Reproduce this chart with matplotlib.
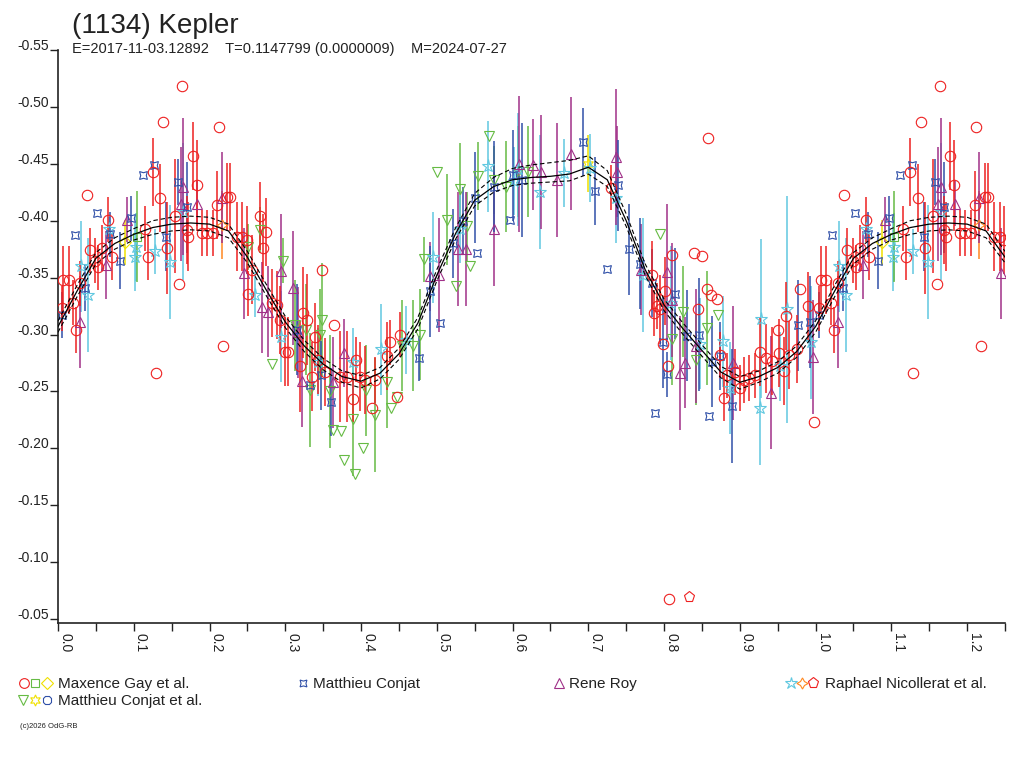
import numpy as np
import matplotlib
matplotlib.use('Agg')
import matplotlib.pyplot as plt

plt.rcParams['font.family'] = ['Liberation Sans', 'DejaVu Sans']

# ---------------- text ----------------
title = "(1134) Kepler"
subtitle = "E=2017-11-03.12892    T=0.1147799 (0.0000009)    M=2024-07-27"
copyright_text = "(c)2026 OdG-RB"
legend_names = ["Maxence Gay et al.", "Matthieu Conjat", "Rene Roy",
                "Raphael Nicollerat et al.", "Matthieu Conjat et al."]

y_ticks = [-0.55, -0.50, -0.45, -0.40, -0.35, -0.30, -0.25, -0.20, -0.15, -0.10, -0.05]
x_major = [0.0, 0.1, 0.2, 0.3, 0.4, 0.5, 0.6, 0.7, 0.8, 0.9, 1.0, 1.1, 1.2]
x_minor = [0.05, 0.15, 0.25, 0.35, 0.45, 0.55, 0.65, 0.75, 0.85, 0.95, 1.05, 1.15, 1.25]

# ---------------- model curve (read at phase steps) ----------------
model_phase = [0.000, 0.025, 0.050, 0.075, 0.100, 0.125, 0.150, 0.175, 0.200, 0.225,
               0.250, 0.275, 0.300, 0.325, 0.350, 0.375, 0.400, 0.425, 0.450, 0.475,
               0.500, 0.525, 0.550, 0.575, 0.600, 0.625, 0.650, 0.675, 0.700, 0.725,
               0.750, 0.775, 0.800, 0.825, 0.850, 0.875, 0.900, 0.925, 0.950, 0.975, 1.000]
model_mag = [-0.307, -0.338, -0.367, -0.380, -0.388, -0.394, -0.397, -0.398, -0.397, -0.391,
             -0.368, -0.339, -0.311, -0.290, -0.274, -0.263, -0.259, -0.266, -0.283, -0.310,
             -0.352, -0.389, -0.418, -0.430, -0.436, -0.438, -0.439, -0.441, -0.447, -0.436,
             -0.400, -0.357, -0.326, -0.305, -0.286, -0.267, -0.258, -0.263, -0.271, -0.285, -0.307]
model_up = [0.005, 0.005, 0.005, 0.005, 0.005, 0.006, 0.006, 0.006, 0.006, 0.006,
            0.005, 0.005, 0.005, 0.005, 0.005, 0.005, 0.005, 0.005, 0.005, 0.005,
            0.005, 0.005, 0.006, 0.008, 0.010, 0.011, 0.012, 0.012, 0.010, 0.008,
            0.006, 0.005, 0.005, 0.005, 0.005, 0.005, 0.005, 0.005, 0.005, 0.005, 0.005]
model_lo = [0.005, 0.005, 0.005, 0.005, 0.005, 0.006, 0.006, 0.006, 0.006, 0.006,
            0.005, 0.005, 0.005, 0.005, 0.005, 0.005, 0.006, 0.005, 0.005, 0.005,
            0.005, 0.005, 0.005, 0.005, 0.005, 0.005, 0.005, 0.006, 0.006, 0.006,
            0.005, 0.005, 0.005, 0.005, 0.005, 0.005, 0.006, 0.005, 0.005, 0.005, 0.005]

# ---------------- observations: (phase, mag, err) ----------------
gay_circles = [
    (0.005, -0.323, 0.02), (0.007, -0.348, 0.03), (0.014, -0.348, 0.03), (0.020, -0.328, 0.02),
    (0.024, -0.304, 0.02), (0.029, -0.345, 0.02), (0.038, -0.423, 0), (0.042, -0.374, 0.02),
    (0.049, -0.365, 0.02), (0.053, -0.359, 0.02), (0.058, -0.376, 0.02), (0.066, -0.401, 0.02),
    (0.071, -0.368, 0.02), (0.115, -0.393, 0.02), (0.119, -0.368, 0.02), (0.125, -0.443, 0.03),
    (0.129, -0.266, 0), (0.135, -0.420, 0.03), (0.139, -0.487, 0), (0.144, -0.376, 0.04),
    (0.155, -0.404, 0.05), (0.160, -0.344, 0), (0.164, -0.518, 0), (0.170, -0.392, 0.03),
    (0.172, -0.386, 0.03), (0.178, -0.457, 0.03), (0.183, -0.431, 0.04), (0.190, -0.389, 0.02),
    (0.197, -0.389, 0.02), (0.205, -0.389, 0.02), (0.210, -0.414, 0.03), (0.212, -0.482, 0),
    (0.218, -0.290, 0), (0.223, -0.421, 0.03), (0.227, -0.421, 0.03), (0.236, -0.386, 0.03),
    (0.243, -0.386, 0.03), (0.249, -0.383, 0.03), (0.251, -0.336, 0.02), (0.256, -0.357, 0.03),
    (0.266, -0.404, 0.03), (0.271, -0.376, 0.03), (0.275, -0.390, 0.03), (0.282, -0.328, 0.03),
    (0.289, -0.326, 0.03), (0.293, -0.313, 0.03), (0.300, -0.285, 0.03), (0.304, -0.285, 0.03),
    (0.319, -0.272, 0.04), (0.324, -0.319, 0.04), (0.329, -0.313, 0.04), (0.335, -0.263, 0.03),
    (0.339, -0.298, 0.03), (0.343, -0.278, 0.03), (0.348, -0.357, 0), (0.352, -0.267, 0.03),
    (0.364, -0.308, 0), (0.372, -0.263, 0.04), (0.381, -0.263, 0.04), (0.389, -0.243, 0.02),
    (0.394, -0.278, 0.02), (0.399, -0.263, 0.03), (0.405, -0.260, 0.03), (0.414, -0.235, 0),
    (0.419, -0.260, 0.02), (0.434, -0.281, 0.03), (0.438, -0.293, 0.02), (0.448, -0.245, 0),
    (0.451, -0.300, 0.02), (0.730, -0.429, 0.02), (0.784, -0.352, 0.03), (0.787, -0.319, 0.02),
    (0.790, -0.325, 0.02), (0.795, -0.322, 0.03), (0.799, -0.292, 0), (0.801, -0.338, 0.03),
    (0.805, -0.272, 0), (0.807, -0.068, 0), (0.810, -0.370, 0), (0.840, -0.372, 0),
    (0.845, -0.322, 0), (0.850, -0.369, 0), (0.856, -0.340, 0), (0.858, -0.473, 0),
    (0.862, -0.335, 0), (0.870, -0.331, 0), (0.874, -0.282, 0.02), (0.879, -0.244, 0.02),
    (0.883, -0.264, 0.02), (0.894, -0.267, 0.02), (0.900, -0.253, 0.02), (0.905, -0.260, 0.02),
    (0.912, -0.262, 0.02), (0.920, -0.264, 0.02), (0.927, -0.285, 0.03), (0.935, -0.279, 0.03),
    (0.943, -0.277, 0.03), (0.950, -0.304, 0), (0.952, -0.284, 0.03), (0.958, -0.268, 0.03),
    (0.961, -0.316, 0.03), (0.965, -0.282, 0.03), (0.975, -0.287, 0.03), (0.980, -0.340, 0),
    (0.990, -0.325, 0.03), (0.998, -0.223, 0),
]
gay_squares = [(0.104, -0.386, 0.04)]
gay_diamonds = [(0.088, -0.381, 0.02)]

conjat = [
    (0.005, -0.317, 0.02), (0.022, -0.387, 0), (0.036, -0.341, 0.02), (0.052, -0.407, 0),
    (0.069, -0.388, 0.02), (0.082, -0.365, 0.025), (0.097, -0.402, 0.02), (0.112, -0.440, 0),
    (0.127, -0.449, 0), (0.143, -0.386, 0.03), (0.158, -0.434, 0.02), (0.170, -0.412, 0.04),
    (0.315, -0.304, 0.04), (0.333, -0.256, 0), (0.347, -0.264, 0.03), (0.361, -0.241, 0.03),
    (0.476, -0.279, 0.02), (0.491, -0.338, 0.04), (0.504, -0.310, 0), (0.521, -0.380, 0.03),
    (0.534, -0.400, 0.03), (0.550, -0.420, 0.04), (0.553, -0.372, 0), (0.575, -0.430, 0.04),
    (0.597, -0.401, 0), (0.600, -0.440, 0.04), (0.613, -0.436, 0.05), (0.693, -0.469, 0.03),
    (0.709, -0.426, 0.03), (0.724, -0.358, 0), (0.739, -0.431, 0.04), (0.754, -0.375, 0.04),
    (0.768, -0.362, 0.04), (0.784, -0.345, 0.03), (0.788, -0.231, 0), (0.799, -0.293, 0.04),
    (0.804, -0.265, 0.02), (0.815, -0.336, 0.04), (0.830, -0.299, 0.04), (0.846, -0.300, 0.05),
    (0.859, -0.228, 0), (0.863, -0.276, 0.04), (0.874, -0.281, 0.03), (0.890, -0.237, 0.05),
    (0.977, -0.308, 0.04), (0.993, -0.311, 0.04),
]

roy = [
    (0.029, -0.311, 0.04), (0.063, -0.361, 0.03), (0.091, -0.401, 0.02), (0.162, -0.415, 0.05),
    (0.165, -0.430, 0.06), (0.184, -0.415, 0.02), (0.216, -0.420, 0.04), (0.245, -0.354, 0.04),
    (0.269, -0.324, 0.04), (0.277, -0.320, 0.04), (0.295, -0.356, 0.05), (0.310, -0.341, 0.05),
    (0.317, -0.302, 0.04), (0.322, -0.259, 0.04), (0.363, -0.258, 0.04), (0.378, -0.284, 0.03),
    (0.491, -0.351, 0.03), (0.503, -0.352, 0.05), (0.528, -0.375, 0.05), (0.538, -0.375, 0.05),
    (0.576, -0.393, 0.05), (0.609, -0.450, 0.06), (0.627, -0.449, 0.04), (0.638, -0.443, 0.05),
    (0.659, -0.436, 0.05), (0.677, -0.459, 0.05), (0.737, -0.456, 0.06), (0.738, -0.443, 0.04),
    (0.770, -0.357, 0.04), (0.804, -0.355, 0.06), (0.810, -0.330, 0.05), (0.821, -0.266, 0.05),
    (0.828, -0.275, 0.04), (0.842, -0.290, 0.05), (0.891, -0.275, 0.05), (0.941, -0.249, 0.05),
    (0.997, -0.280, 0.05),
]

nicollerat_stars = [
    (0.031, -0.360, 0.04), (0.040, -0.335, 0.05), (0.067, -0.393, 0.01), (0.102, -0.368, 0.03),
    (0.103, -0.377, 0.03), (0.128, -0.373, 0.02), (0.148, -0.364, 0.05), (0.165, -0.408, 0.06),
    (0.260, -0.335, 0.02), (0.295, -0.298, 0.04), (0.343, -0.276, 0.03), (0.389, -0.276, 0.03),
    (0.426, -0.287, 0.04), (0.460, -0.295, 0.03), (0.495, -0.368, 0.04), (0.530, -0.393, 0.03),
    (0.568, -0.448, 0.04), (0.602, -0.435, 0.03), (0.607, -0.445, 0.05), (0.636, -0.425, 0.05),
    (0.668, -0.442, 0.03), (0.702, -0.446, 0.03), (0.737, -0.420, 0.04), (0.772, -0.352, 0.05),
    (0.809, -0.328, 0.05), (0.848, -0.292, 0.04), (0.878, -0.294, 0.04), (0.887, -0.253, 0.04),
    (0.927, -0.235, 0.05), (0.928, -0.314, 0.07), (0.953, -0.272, 0.03), (0.962, -0.322, 0.10),
    (0.994, -0.293, 0.05),
]
nicollerat_4stars = [(0.216, -0.396, 0.03)]
nicollerat_pentagons = [(0.833, -0.069, 0)]

conjat_al_triangles = [
    (0.251, -0.377, 0.02), (0.267, -0.392, 0.02), (0.283, -0.274, 0), (0.297, -0.365, 0.02),
    (0.313, -0.308, 0.04), (0.328, -0.304, 0.04), (0.333, -0.251, 0.05), (0.346, -0.300, 0.04),
    (0.348, -0.313, 0.05), (0.359, -0.250, 0.05), (0.363, -0.216, 0), (0.373, -0.215, 0),
    (0.378, -0.190, 0), (0.389, -0.226, 0.05), (0.392, -0.177, 0), (0.403, -0.200, 0),
    (0.407, -0.251, 0.04), (0.418, -0.229, 0.05), (0.434, -0.258, 0.04), (0.439, -0.235, 0),
    (0.448, -0.245, 0), (0.454, -0.290, 0.04), (0.469, -0.290, 0.04), (0.478, -0.300, 0.04),
    (0.483, -0.366, 0.02), (0.500, -0.443, 0), (0.514, -0.401, 0.04), (0.525, -0.343, 0),
    (0.530, -0.428, 0.04), (0.540, -0.395, 0.03), (0.544, -0.360, 0), (0.555, -0.439, 0.03),
    (0.569, -0.474, 0), (0.576, -0.436, 0.03), (0.591, -0.430, 0.04), (0.607, -0.443, 0.04),
    (0.620, -0.443, 0.04), (0.795, -0.388, 0), (0.811, -0.296, 0.04), (0.825, -0.320, 0.04),
    (0.842, -0.278, 0.04), (0.856, -0.306, 0.05), (0.871, -0.317, 0),
]
conjat_al_6stars = [(0.700, -0.450, 0.025)]
conjat_al_octagons = []

# ---------------- style ----------------
RED = '#ee2020'
GREEN = '#66bb44'
YELLOW = '#f0e000'
BLUE = '#3050a8'
PURPLE = '#a03088'
CYAN = '#60c8e0'
ORANGE = '#ff8820'
QUAD = (4, 1, 45)    # concave square marker
STAR4 = (4, 1, 0)
STAR6 = (6, 1, 0)

fig = plt.figure(figsize=(10.24, 7.68), dpi=100)
ax = fig.add_axes([58 / 1024, 1 - 623 / 768, (1005 - 58) / 1024, (623 - 50) / 768])
ax.set_xlim(0, 1.25)
ax.set_ylim(-0.0465, -0.55)


def draw(points, marker, color, ms, mew=0.8):
    if not points:
        return
    arr = np.array(points, dtype=float)
    ph, mag, err = arr[:, 0], arr[:, 1], arr[:, 2]
    rep = ph < 0.25
    ph = np.concatenate([ph, ph[rep] + 1.0])
    mag = np.concatenate([mag, mag[rep]])
    err = np.concatenate([err, err[rep]])
    has = err > 0
    ax.vlines(ph[has], mag[has] - err[has], mag[has] + err[has], colors=color, lw=1.1, zorder=2)
    ax.plot(ph, mag, ls='none', marker=marker, mfc='none', mec=color, ms=ms, mew=mew, zorder=3)


draw(conjat_al_triangles, 'v', GREEN, 7.5)
draw(conjat_al_6stars, STAR6, YELLOW, 8)
draw(conjat_al_octagons, '8', BLUE, 7)
draw(nicollerat_stars, '*', CYAN, 9.5)
draw(nicollerat_4stars, STAR4, ORANGE, 8)
draw(nicollerat_pentagons, 'p', RED, 8)
draw(roy, '^', PURPLE, 7.5)
draw(conjat, QUAD, BLUE, 8)
draw(gay_squares, 's', GREEN, 6)
draw(gay_diamonds, 'D', YELLOW, 6)
draw(gay_circles, 'o', RED, 7.5)

# model curve, repeated over the extra quarter period
mp = np.array(model_phase)
mm = np.array(model_mag)
mu = np.array(model_up)
ml = np.array(model_lo)
ext = (mp > 0) & (mp <= 0.25)
px = np.concatenate([mp, mp[ext] + 1.0])
pm = np.concatenate([mm, mm[ext]])
pu = np.concatenate([mu, mu[ext]])
pl = np.concatenate([ml, ml[ext]])
ax.plot(px, pm, color='black', lw=0.9, zorder=5)
ax.plot(px, pm - pu, color='black', lw=0.8, ls=(0, (4, 2.5)), zorder=5)
ax.plot(px, pm + pl, color='black', lw=0.8, ls=(0, (4, 2.5)), zorder=5)

# axes styling
for s in ['top', 'right']:
    ax.spines[s].set_visible(False)
for s in ['left', 'bottom']:
    ax.spines[s].set_linewidth(1.2)
    ax.spines[s].set_color('#222222')

ax.set_yticks(y_ticks)
ax.set_yticklabels(['%.2f' % v for v in y_ticks], fontsize=10, color='#222222')
for lab in ax.get_yticklabels():
    lab.set_verticalalignment('baseline')
ax.tick_params(axis='y', direction='out', length=6, width=1, pad=0.5, colors='#222222')

ax.set_xticks(x_major)
ax.set_xticks(x_minor, minor=True)
ax.set_xticklabels(['%.1f' % v for v in x_major], rotation=270, ha='left', va='top',
                   fontsize=10, color='#222222')
ax.tick_params(axis='x', which='both', direction='out', length=5.8, width=1, pad=1.5,
               colors='#222222')

# overlay in pixel coordinates for title and legend
ov = fig.add_axes([0, 0, 1, 1])
ov.set_xlim(0, 1024)
ov.set_ylim(768, 0)
ov.axis('off')
ov.patch.set_visible(False)

ov.text(72, 33, title, fontsize=20, va='baseline', ha='left', color='#222222')
ov.text(72, 53, subtitle, fontsize=10.5, va='baseline', ha='left', color='#222222')

row1, row2 = 683, 700
legend_markers = [
    (24, row1, 'o', RED, 7), (35, row1, 's', GREEN, 6), (47, row1, 'D', YELLOW, 6),
    (302.5, row1, QUAD, BLUE, 7),
    (559, row1, '^', PURPLE, 7),
    (791, row1, '*', CYAN, 9), (802, row1, STAR4, ORANGE, 8), (813, row1, 'p', RED, 8),
    (23, row2, 'v', GREEN, 7), (35, row2, STAR6, YELLOW, 8), (47, row2, '8', BLUE, 7),
]
for x, y, m, c, s in legend_markers:
    ov.plot([x], [y], marker=m, mfc='none', mec=c, ms=s, mew=0.8, ls='none')

legend_pos = [(58, row1 + 5), (313, row1 + 5), (569, row1 + 5), (825, row1 + 5), (58, row2 + 5)]
for (x, y), name in zip(legend_pos, legend_names):
    ov.text(x, y, name, fontsize=11, va='baseline', ha='left', color='#222222')

ov.text(20, 728, copyright_text, fontsize=5.5, va='baseline', ha='left', color='#222222')

fig.savefig('out.png', dpi=100)
